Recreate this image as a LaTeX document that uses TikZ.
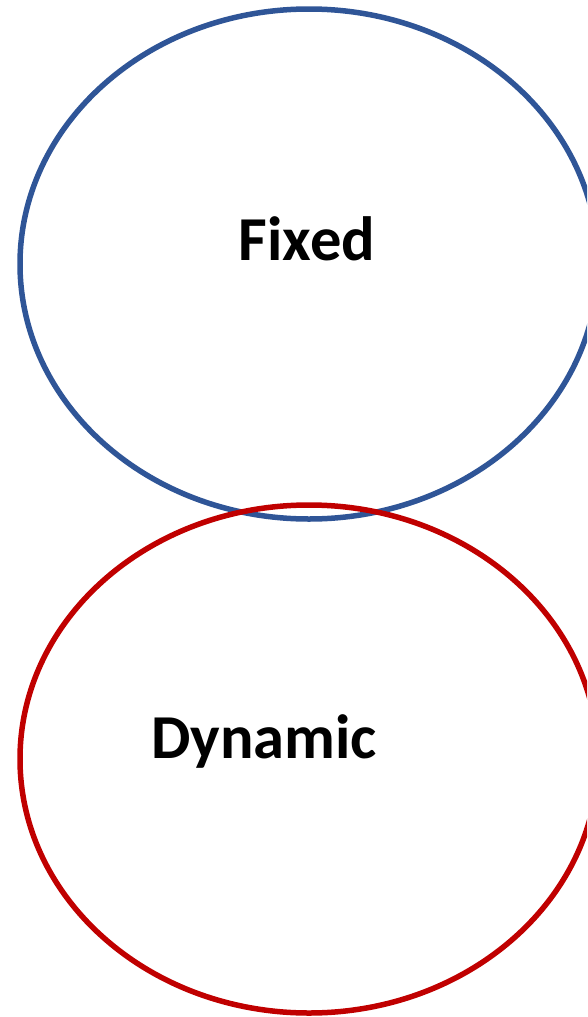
\documentclass[tikz,border=0pt]{standalone}
\usepackage{fontspec}
\setmainfont{Carlito}
\definecolor{eblue}{HTML}{2F5597}
\definecolor{ered}{HTML}{C00000}
\begin{document}
\begin{tikzpicture}[x=1pt,y=-1pt,
  ell/.style={line width=5.5pt},
  lbl/.style={font=\fontsize{62.5}{64}\selectfont\bfseries, anchor=base, inner sep=0pt}]
\useasboundingbox (0,0) rectangle (587,1017);
\begin{scope}
\clip (0,0) rectangle (587,1017);
\draw[ell, eblue] (309,264) ellipse [x radius=289, y radius=255];
\draw[ell, ered] (309,759) ellipse [x radius=289, y radius=254];
\end{scope}
\node[lbl] (fixed) at (307,260) {Fixed};
\node[lbl] (dyn) at (264,758) {Dynamic};
\end{tikzpicture}
\end{document}
